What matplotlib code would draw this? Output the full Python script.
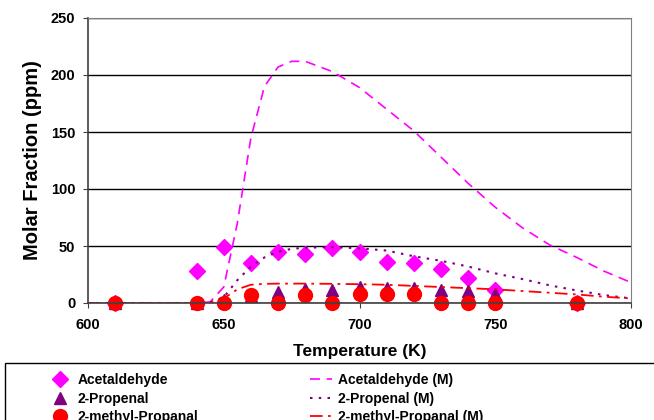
import numpy as np
import matplotlib.pyplot as plt
from matplotlib.patches import Rectangle

plt.rcParams['font.family'] = ['Liberation Sans', 'DejaVu Sans']
plt.rcParams['font.weight'] = 'bold'

# experimental points
temp_exp = [610, 640, 650, 660, 670, 680, 690, 700, 710, 720, 730, 740, 750, 780]
acetaldehyde = [0, 28, 49, 35, 45, 43, 48, 44.5, 36, 35, 30, 21.5, 11, 0]
propenal = [0, 0, 3, 6, 9.5, 12, 11.5, 14, 13.5, 13, 11.5, 10.5, 8, 0]
methyl_propanal = [0, 0, 0, 7, 0, 7, 0, 7.5, 7.5, 7.5, 0, 0, 0, 0]

# model curves
temp_mod = [600, 630, 640, 645, 650, 655, 660, 665, 670, 675, 680, 690, 700, 710,
            720, 730, 740, 750, 760, 770, 780, 790, 800]
acetaldehyde_m = [0, 0, 0, 1, 14, 70, 145, 190, 207, 212, 212, 203, 189, 170,
                  151, 128, 105, 84, 66, 51, 40, 28, 18]
propenal_m = [0, 0, 0, 0.5, 5, 20, 32, 40, 45, 47.5, 48.5, 49, 48, 46,
              41, 37, 32, 26, 21, 15.5, 11, 7, 4]
methyl_propanal_m = [0, 0, 0, 0.5, 4, 12, 16, 16.8, 17, 17, 17, 16.8, 16.5, 16,
                     15, 14, 13, 12, 10.5, 9, 7.5, 5.5, 4]

fig = plt.figure(figsize=(6.54, 4.2), dpi=100)
ax = fig.add_axes([88/654, 1-303/420, (631-88)/654, (303-18)/420])

h1, = ax.plot(temp_exp, acetaldehyde, 'D', color='#ff00ff', markersize=8, linestyle='none', clip_on=False)
h2, = ax.plot(temp_exp, propenal, '^', color='#800080', markersize=9, linestyle='none', clip_on=False)
h3, = ax.plot(temp_exp, methyl_propanal, 'o', color='#ff0000', markersize=10, linestyle='none', clip_on=False)
h4, = ax.plot(temp_mod, acetaldehyde_m, color='#ff00ff', lw=1.2, dashes=(6, 4))
h5, = ax.plot(temp_mod, propenal_m, color='#800080', lw=1.5, dashes=(1.2, 3))
h6, = ax.plot(temp_mod, methyl_propanal_m, color='#ff0000', lw=1.3, dashes=(7, 3, 1.5, 3))

ax.set_xlim(600, 800)
ax.set_ylim(0, 250)
ax.set_xticks(np.arange(600, 801, 50))
ax.set_yticks(np.arange(0, 251, 50))
ax.yaxis.grid(True, color='black', lw=1)
ax.set_axisbelow(True)
for s in ['top', 'right']:
    ax.spines[s].set_color('#808080')
for s in ['left', 'bottom']:
    ax.spines[s].set_color('#404040')
    ax.spines[s].set_linewidth(1.2)
ax.tick_params(labelsize=10.5, length=3.6, direction='out', color='#404040')
ax.tick_params(axis='y', pad=5.5)
ax.tick_params(axis='x', pad=7)
for lab in ax.get_xticklabels() + ax.get_yticklabels():
    lab.set_fontweight('bold')
ax.set_xlabel('Temperature (K)', fontsize=12.5, fontweight='bold', labelpad=9)
ax.set_ylabel('Molar Fraction (ppm)', fontsize=14.5, fontweight='bold', labelpad=6)

# legend frame running off the page, as in the original
fig.patches.append(Rectangle((5/654, -0.1), 1, 0.1 + 57/420, transform=fig.transFigure,
                             fill=False, edgecolor='black', lw=1))
leg_kw = dict(loc='upper left', frameon=False, prop={'size': 10, 'weight': 'bold'},
              handlelength=1.6, handletextpad=0.45, labelspacing=0.33,
              borderaxespad=0, borderpad=0)
leg1 = fig.legend([h1, h2, h3], ['Acetaldehyde', '2-Propenal', '2-methyl-Propanal'],
                  bbox_to_anchor=(49/654, 1-373/420), **leg_kw)
leg2 = fig.legend([h4, h5, h6], ['Acetaldehyde (M)', '2-Propenal (M)', '2-methyl-Propanal (M)'],
                  bbox_to_anchor=(310/654, 1-373/420), **leg_kw)

fig.savefig('out.png', dpi=100)
